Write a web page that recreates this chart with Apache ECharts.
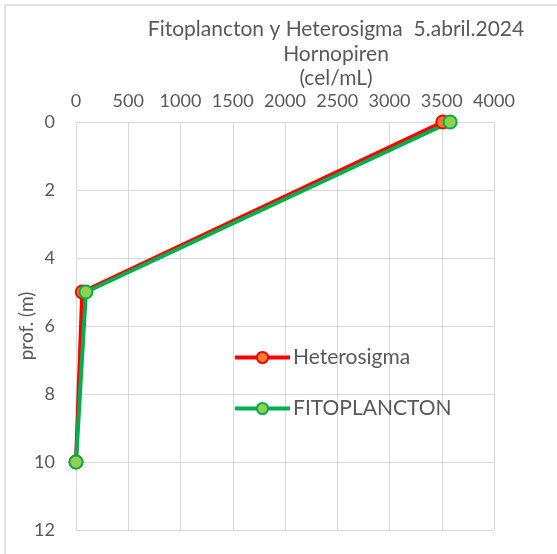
<!DOCTYPE html>
<html>
<head>
<meta charset="utf-8">
<script src="https://cdn.jsdelivr.net/npm/echarts@6/dist/echarts.min.js"></script>
<style>
  html, body { margin: 0; padding: 0; background: #fff; }
  #chart { width: 557px; height: 554px; }
</style>
</head>
<body>
<div id="chart"></div>
<script>
// profundidad (m)
var depths = [0, 5, 10];
// cel/mL
var heterosigma = [3510, 60, 0];
var fitoplancton = [3580, 95, 0];

var xTicks = { min: 0, max: 4000, interval: 500 };
var yTicks = { min: 0, max: 12, interval: 2 };

function pairs(vals) {
    return vals.map(function (v, i) { return [v, depths[i]]; });
}

var myChart = echarts.init(document.getElementById('chart'));
var font = 'Lato, "Open Sans", sans-serif';
var gris = '#595959';

var option = {
    animation: false,
    textStyle: { fontFamily: font },
    title: {
        text: 'Fitoplancton y Heterosigma  5.abril.2024\nHornopiren\n(cel/mL)',
        left: 331,
        top: 12,
        textAlign: 'center',
        textStyle: { fontFamily: font, fontSize: 21, fontWeight: 'normal', color: gris, lineHeight: 24.5 }
    },
    legend: {
        orient: 'vertical',
        left: 233,
        top: 347,
        padding: 0,
        itemWidth: 55,
        itemHeight: 14,
        itemGap: 30,
        lineStyle: { width: 4 },
        textStyle: { fontFamily: font, fontSize: 21, color: gris, padding: [0, 0, 0, -2] },
        data: ['Heterosigma', 'FITOPLANCTON']
    },
    grid: { left: 76, right: 63, top: 122, bottom: 24, outerBoundsMode: 'none' },
    xAxis: {
        type: 'value',
        position: 'top',
        min: xTicks.min, max: xTicks.max, interval: xTicks.interval,
        axisLine: { show: true, lineStyle: { color: '#D9D9D9' } },
        axisTick: { show: false },
        axisLabel: { fontSize: 18, color: gris, margin: 12, formatter: function (v) { return String(v); } },
        splitLine: { show: true, lineStyle: { color: '#D9D9D9', width: 1 } }
    },
    yAxis: {
        type: 'value',
        inverse: true,
        min: yTicks.min, max: yTicks.max, interval: yTicks.interval,
        name: 'prof. (m)',
        nameLocation: 'middle',
        nameRotate: 90,
        nameGap: 40,
        nameMoveOverlap: false,
        nameTextStyle: { fontSize: 19, color: gris },
        axisLine: { show: true, lineStyle: { color: '#D9D9D9' } },
        axisTick: { show: false },
        axisLabel: { fontSize: 18, color: gris, margin: 21 },
        splitLine: { show: true, lineStyle: { color: '#D9D9D9', width: 1 } }
    },
    graphic: [
        { type: 'line', shape: { x1: 5, y1: 5, x2: 557, y2: 5 }, style: { stroke: '#D9D9D9', lineWidth: 1.5 } },
        { type: 'line', shape: { x1: 5, y1: 5, x2: 5, y2: 554 }, style: { stroke: '#D9D9D9', lineWidth: 1.5 } }
    ],
    series: [
        {
            name: 'Heterosigma',
            type: 'line',
            data: pairs(heterosigma),
            clip: false,
            symbol: 'circle',
            symbolSize: 13,
            lineStyle: { color: '#FF0000', width: 4 },
            itemStyle: { color: '#ED7D31', borderColor: '#FF0000', borderWidth: 2 }
        },
        {
            name: 'FITOPLANCTON',
            type: 'line',
            data: pairs(fitoplancton),
            clip: false,
            symbol: 'circle',
            symbolSize: 13,
            lineStyle: { color: '#00B050', width: 4 },
            itemStyle: { color: '#92D050', borderColor: '#00B050', borderWidth: 2 }
        }
    ]
};

myChart.setOption(option);
</script>
</body>
</html>
